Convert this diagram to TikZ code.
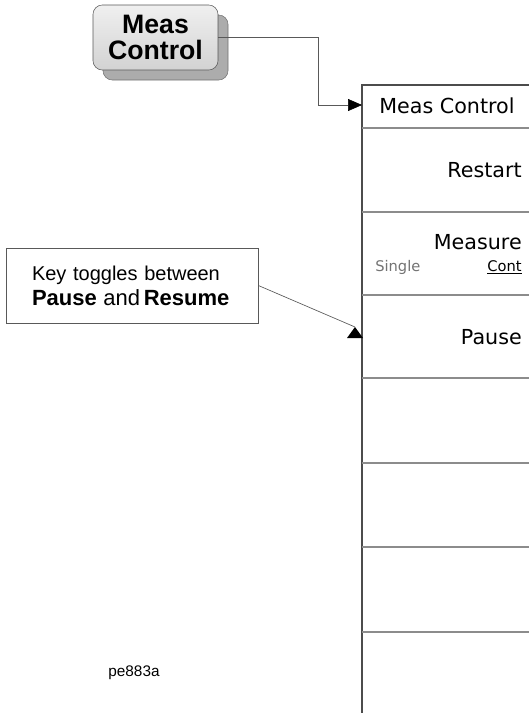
\documentclass[tikz,border=0pt]{standalone}
\usepackage{fontspec}
\setmainfont{Liberation Sans}
\newfontfamily\panelfont{DejaVu Sans}
\usetikzlibrary{arrows.meta,positioning,shadows}

\tikzset{
  frame/.style={draw=black!70, line width=0.9pt},
  divider/.style={draw=black!45, line width=1pt},
  conn/.style={draw=black!65, line width=0.5pt},
  skey/.style={font=\panelfont\fontsize{15.5}{18}\selectfont, inner sep=0pt},
  small/.style={font=\panelfont\fontsize{11}{13}\selectfont, inner sep=0pt},
  hardkey/.style={draw=black!65, rounded corners=7pt, top color=gray!12, bottom color=gray!35,
    minimum width=93.75pt, minimum height=48.75pt, align=center,
    font=\bfseries\fontsize{20}{19.5}\selectfont,
    drop shadow={shadow xshift=7.5pt, shadow yshift=-7.5pt, opacity=1, fill=gray!65, draw=black!55}}
}

\begin{document}
\begin{tikzpicture}[x=0.75pt,y=-0.75pt]
\useasboundingbox (0,0) rectangle (529,715);

% hard key
\node[hardkey] (key) at (155.5,37.5) {Meas\\Control};

% softkey panel
\draw[frame] (529,85) -- (362,85) -- (362,713);
\foreach \y in {128,212,295,378,463,547,632} {
    \draw[divider] (362,\y) -- (529,\y);
}
\node[skey] (hdr) at (447,106) {Meas Control};
\node[skey, anchor=east] (restart) at (522,170) {Restart};
\node[skey, anchor=east] (measure) at (522,242) {Measure};
\node[small, anchor=west, text=black!55] (single) at (375,267) {Single};
\node[small, anchor=east] (cont) at (522,267) {\underline{Cont}};
\node[skey, anchor=east] (pause) at (522,337) {Pause};

% key to menu
\coordinate (hdrin) at (362,105);
\coordinate (turn) at (318,105);
\draw[conn, -{Triangle[length=10.5pt, width=9pt, black]}] (key.east) -| (turn) -- (hdrin);

% callout
\node[draw=black!65, line width=0.6pt, align=left, text width=150pt, inner xsep=19.5pt,
      minimum height=56.25pt, font=\fontsize{15}{18.75}\selectfont] (note) at (132,285.5)
      {Key toggles between\\
       {\fontsize{16.5}{18.75}\selectfont\textbf{Pause} and\,\textbf{Resume}}};
\coordinate (tip) at (355,327);
\draw[conn] (note.east) -- (tip);
\fill (tip) -- (347,338) -- (363,338) -- cycle;

\node[font=\fontsize{11.5}{13}\selectfont] (fig) at (134,673) {pe883a};
\end{tikzpicture}
\end{document}
